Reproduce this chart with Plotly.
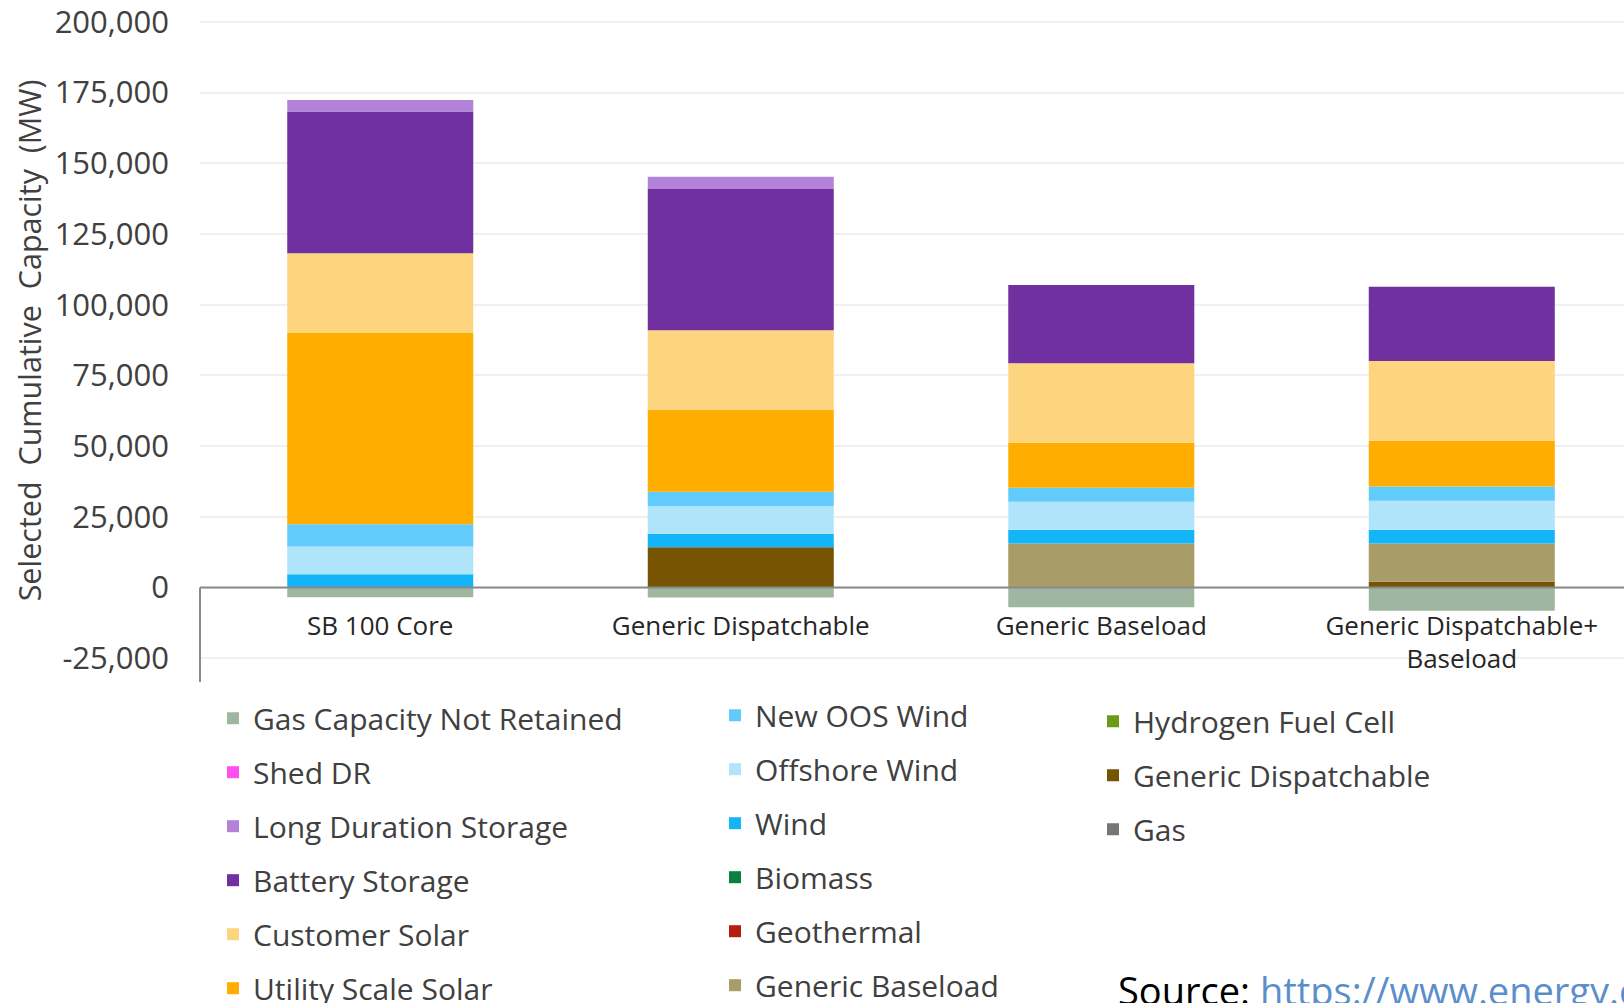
import plotly.graph_objects as go

categories = ["SB 100 Core", "Generic Dispatchable", "Generic Baseload", "Generic Dispatchable+<br>Baseload"]

# MW values
gas = [0, 0, 0, 0]
generic_dispatchable = [0, 14200, 0, 2000]
hydrogen_fuel_cell = [0, 0, 0, 0]
generic_baseload = [0, 0, 15600, 13600]
geothermal = [0, 0, 0, 0]
biomass = [0, 0, 0, 0]
wind = [4700, 4700, 4800, 4800]
offshore_wind = [9800, 9900, 9900, 10300]
new_oos_wind = [7900, 5100, 5000, 5000]
utility_scale_solar = [67600, 29000, 15900, 16200]
customer_solar = [28200, 28100, 28100, 28200]
battery_storage = [50100, 49900, 27700, 26200]
long_duration_storage = [4100, 4300, 0, 0]
shed_dr = [0, 0, 0, 0]
gas_capacity_not_retained = [-3400, -3500, -7000, -8200]

y_ticks = [-25000, 0, 25000, 50000, 75000, 100000, 125000, 150000, 175000, 200000]
y_tick_labels = ["-25,000", "0", "25,000", "50,000", "75,000", "100,000", "125,000", "150,000", "175,000", "200,000"]
y_title = "Selected\u00a0\u00a0Cumulative\u00a0\u00a0Capacity\u00a0\u00a0(MW)"

# (name, values, colour, legend, rank) in stacking order from bottom
series = [
    ("Gas", gas, "#767676", "legend3", 3),
    ("Generic Dispatchable", generic_dispatchable, "#765300", "legend3", 2),
    ("Hydrogen Fuel Cell", hydrogen_fuel_cell, "#6E9A1A", "legend3", 1),
    ("Generic Baseload", generic_baseload, "#A89C68", "legend2", 6),
    ("Geothermal", geothermal, "#B32010", "legend2", 5),
    ("Biomass", biomass, "#0B7F3F", "legend2", 4),
    ("Wind", wind, "#14B4F8", "legend2", 3),
    ("Offshore Wind", offshore_wind, "#AFE4FB", "legend2", 2),
    ("New OOS Wind", new_oos_wind, "#61CCFB", "legend2", 1),
    ("Utility Scale Solar", utility_scale_solar, "#FFAD00", "legend", 6),
    ("Customer Solar", customer_solar, "#FDD57E", "legend", 5),
    ("Battery Storage", battery_storage, "#7030A0", "legend", 4),
    ("Long Duration Storage", long_duration_storage, "#B383D9", "legend", 3),
    ("Shed DR", shed_dr, "#FF4FF0", "legend", 2),
    ("Gas Capacity Not Retained", gas_capacity_not_retained, "#9FB7A0", "legend", 1),
]

fig = go.Figure()
for name, vals, color, leg, rank in series:
    fig.add_trace(go.Bar(
        x=list(range(len(categories))), y=vals, name=name,
        marker=dict(color=color, line=dict(width=0)),
        legend=leg, legendrank=rank, legendgroup=name,
    ))

W, H = 1624, 1003
ml, mt, mb, mr = 200, 18.5, 321.2, 0
ymin, ymax = -33400, 201000
plot_h = H - mt - mb
plot_w = W - ml - mr

def py(px):
    return (H - mb - px) / plot_h

def pxx(px):
    return (px - ml) / plot_w

legend_font = dict(family="Open Sans", size=30, color="#404040")
common_leg = dict(font=legend_font, bgcolor="rgba(0,0,0,0)", borderwidth=0,
                  tracegroupgap=12, yanchor="top", xanchor="left", orientation="v")

fig.update_layout(
    width=W, height=H,
    margin=dict(l=ml, r=mr, t=mt, b=mb, pad=0, autoexpand=False),
    paper_bgcolor="white", plot_bgcolor="white",
    barmode="relative", bargap=0.484,
    font=dict(family="Open Sans", color="#404040"),
    legend=dict(x=pxx(213), y=py(692), **common_leg),
    legend2=dict(x=pxx(715), y=py(689), **common_leg),
    legend3=dict(x=pxx(1093), y=py(695), **common_leg),
    xaxis=dict(
        range=[-0.5, 3.45], tickmode="array", tickvals=list(range(len(categories))),
        ticktext=categories, showgrid=False, zeroline=False, showline=False,
        ticks="", anchor="free", position=(0 - ymin) / (ymax - ymin),
        ticklabelstandoff=20,
        tickfont=dict(family="Open Sans", size=26, color="#262626"),
        fixedrange=True,
    ),
    yaxis=dict(
        range=[ymin, ymax], tickmode="array", tickvals=y_ticks, ticktext=y_tick_labels,
        showgrid=True, gridcolor="#F0F0F0", gridwidth=2, zeroline=False, showline=False,
        ticks="", ticklabelstandoff=30, ticklabeloverflow="allow",
        tickfont=dict(family="Open Sans", size=31, color="#404040"),
        automargin=False,
    ),
    shapes=[
        dict(type="line", xref="paper", yref="y", x0=0, x1=1, y0=0, y1=0,
             line=dict(color="#8A8A8A", width=2), layer="above"),
        dict(type="line", xref="paper", yref="y", x0=0, x1=0, y0=ymin, y1=0,
             line=dict(color="#8A8A8A", width=2), layer="above"),
    ],
    annotations=[
        dict(xref="paper", yref="paper", x=pxx(29), y=py(340), xanchor="center", yanchor="middle",
             textangle=-90, showarrow=False, text=y_title,
             font=dict(family="Open Sans", size=30.5, color="#404040")),
        dict(xref="paper", yref="paper", x=pxx(1116), y=py(990), xanchor="left", yanchor="middle",
             showarrow=False, align="left",
             text="Source: <span style='color:#5B8FCB'>https://www.energy.ca.gov/sb100</span>",
             font=dict(family="Open Sans", size=38, color="#000000")),
    ],
)

fig.write_html("out.html")
